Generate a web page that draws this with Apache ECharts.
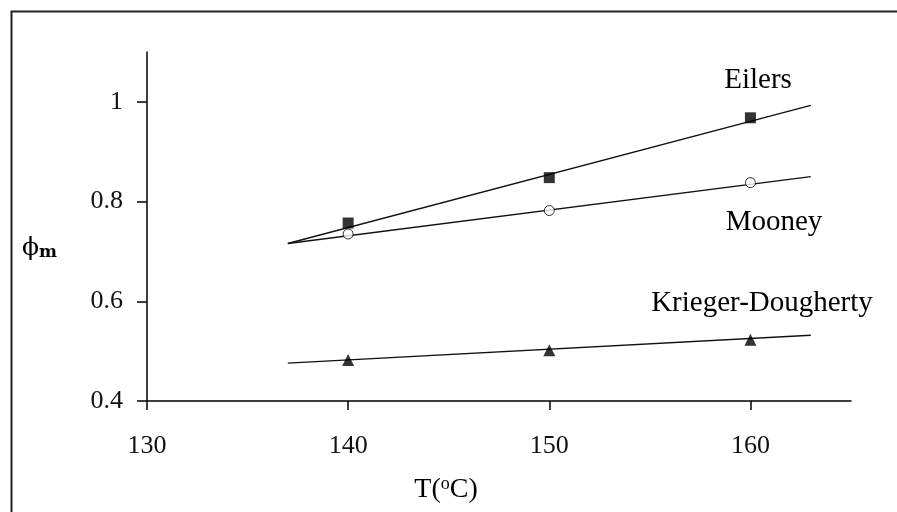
<!DOCTYPE html>
<html>
<head>
<meta charset="utf-8">
<script src="https://cdn.jsdelivr.net/npm/echarts@6/dist/echarts.min.js"></script>
<style>html,body{margin:0;padding:0;background:#fff;}#c{width:897px;height:512px;}</style>
</head>
<body>
<div id="c"></div>
<script>
var temps = [140, 150, 160];
var eilers = [0.757, 0.848, 0.968];
var mooney = [0.735, 0.782, 0.838];
var krieger = [0.482, 0.502, 0.523];
var fitT = [137, 163];
var eilersFit = [0.716, 0.993];
var mooneyFit = [0.716, 0.850];
var kriegerFit = [0.476, 0.532];
var xTicks = [130, 140, 150, 160];
var xTickLabels = ['130', '140', '150', '160'];
var yTicks = [0.4, 0.6, 0.8, 1.0];
var yTickLabels = ['0.4', '0.6', '0.8', '1'];
var seriesNames = ['Eilers', 'Mooney', 'Krieger-Dougherty'];

function pairs(xs, ys) { return xs.map(function (x, i) { return [x, ys[i]]; }); }

var font = 'Liberation Serif';
var chart = echarts.init(document.getElementById('c'), null, { renderer: 'canvas' });

function fitSeries(ys) {
  return { type: 'line', data: pairs(fitT, ys), symbol: 'none', lineStyle: { color: '#111', width: 1.4 }, z: 2, silent: true };
}
function markSeries(name, ys, symbol, size, filled) {
  return {
    name: name, type: 'scatter', data: pairs(temps, ys), symbol: symbol, symbolSize: size,
    itemStyle: filled ? { color: '#000' } : { color: '#fff', borderColor: '#000', borderWidth: 1 }, z: 3
  };
}

chart.setOption({
  backgroundColor: '#fff',
  animation: false,
  grid: { left: 147, right: 46, top: 52, bottom: 111 },
  xAxis: {
    type: 'value', min: 130, max: 165,
    axisLine: { show: true, lineStyle: { color: '#000', width: 1.5 } },
    axisTick: { show: true, length: 9, inside: false, customValues: xTicks, lineStyle: { color: '#000', width: 1.5 } },
    axisLabel: {
      customValues: xTicks, margin: 32, color: '#111', fontFamily: font, fontSize: 26,
      formatter: function (v) { var i = xTicks.indexOf(v); return i >= 0 ? xTickLabels[i] : ''; }
    },
    splitLine: { show: false }
  },
  yAxis: {
    type: 'value', min: 0.4, max: 1.1,
    axisLine: { show: true, onZero: false, lineStyle: { color: '#000', width: 1.5 } },
    axisTick: { show: true, length: 10, customValues: yTicks, lineStyle: { color: '#000', width: 1.5 } },
    axisLabel: {
      customValues: yTicks, margin: 24, color: '#111', fontFamily: font, fontSize: 26,
      formatter: function (v) { for (var i = 0; i < yTicks.length; i++) { if (Math.abs(yTicks[i] - v) < 1e-6) return yTickLabels[i]; } return ''; }
    },
    splitLine: { show: false }
  },
  series: [
    fitSeries(eilersFit), fitSeries(mooneyFit), fitSeries(kriegerFit),
    markSeries(seriesNames[0], eilers, 'rect', 11, true),
    markSeries(seriesNames[1], mooney, 'circle', 10, false),
    markSeries(seriesNames[2], krieger, 'triangle', 12, true)
  ],
  graphic: [
    { type: 'rect', left: 9, top: 9, shape: { width: 1000, height: 1000 }, style: { fill: 'none', stroke: '#222', lineWidth: 2 }, z: -1 },
    { type: 'text', x: 758, y: 80, style: { text: seriesNames[0], font: '29px "Liberation Serif"', fill: '#000', align: 'center', verticalAlign: 'middle' } },
    { type: 'text', x: 774, y: 222, style: { text: seriesNames[1], font: '29px "Liberation Serif"', fill: '#000', align: 'center', verticalAlign: 'middle' } },
    { type: 'text', x: 762, y: 303, style: { text: seriesNames[2], font: '29px "Liberation Serif"', fill: '#000', align: 'center', verticalAlign: 'middle' } },
    { type: 'text', x: 446, y: 490, style: {
        text: 'T({s|o}C)', align: 'center', verticalAlign: 'middle', fill: '#000', font: '28px "Liberation Serif"',
        rich: { s: { fontSize: 18, fontFamily: font, verticalAlign: 'top', padding: [0, 0, 12, 0] } } } },
    { type: 'text', x: 22, y: 248, style: {
        text: '\u03D5{m|m}', align: 'left', verticalAlign: 'middle', fill: '#000', font: '25px "DejaVu Serif"',
        rich: { m: { fontSize: 17, fontFamily: 'DejaVu Serif', fontWeight: 'bold', padding: [10, 0, 0, 0] } } } }
  ]
});
</script>
</body>
</html>
